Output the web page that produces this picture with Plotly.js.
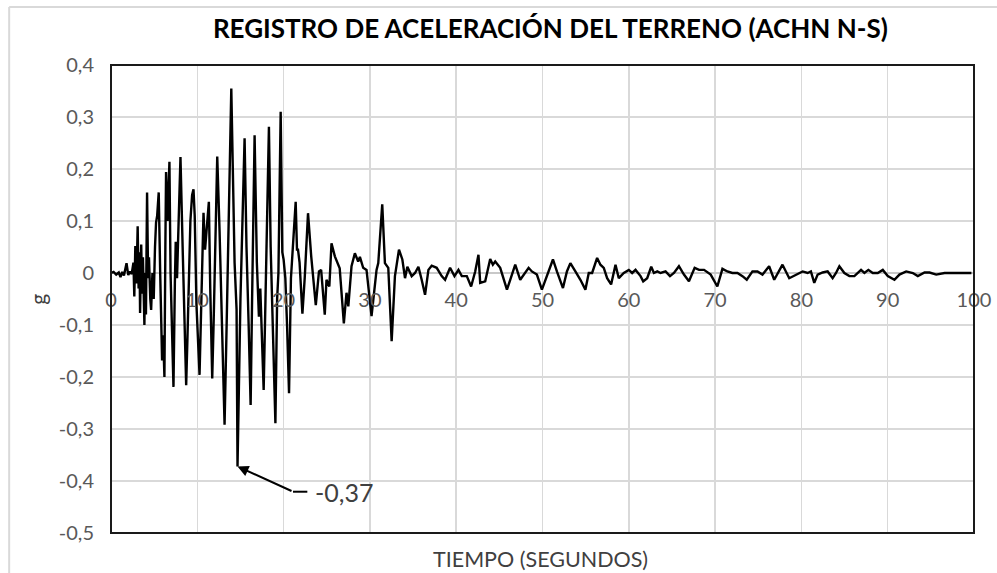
<!DOCTYPE html>
<html>
<head>
<meta charset="utf-8">
<script src="https://cdn.plot.ly/plotly-3.0.1.min.js"></script>
<style>html,body{margin:0;padding:0;background:#fff;}#chart{width:997px;height:573px;}</style>
</head>
<body>
<div id="chart"></div>
<script>
// Time (s)
const tiempo = [0,0.3,0.6,0.9,1.1,1.3,1.5,1.8,2.0,2.2,2.4,2.6,2.7,2.82,2.95,3.09,3.2,3.3,3.37,3.5,3.6,3.7,3.87,3.95,4.05,4.18,4.3,4.4,4.55,4.65,4.8,4.95,5.1,5.22,5.35,5.53,5.7,5.92,6.05,6.19,6.3,6.38,6.55,6.77,6.9,7.05,7.24,7.4,7.5,7.65,7.8,8.05,8.3,8.5,8.71,8.85,9.0,9.2,9.4,9.56,9.7,9.9,10.26,10.45,10.72,10.9,11.1,11.34,11.5,11.73,11.9,12.1,12.31,12.58,12.9,13.16,13.4,13.6,13.94,14.32,14.55,14.66,15.0,15.48,15.7,15.95,16.18,16.35,16.64,16.9,17.14,17.3,17.42,17.69,17.9,18.1,18.3,18.5,18.75,19.05,19.25,19.4,19.66,19.85,20.0,20.2,20.4,20.63,20.85,21.1,21.4,21.55,21.67,21.85,22.18,22.45,22.83,23.2,23.5,23.73,24.1,24.35,24.77,24.97,25.3,25.55,25.94,26.3,26.5,26.98,27.29,27.5,27.87,28.26,28.64,28.84,29.22,29.61,30.19,30.77,30.97,31.43,31.74,32.13,32.52,32.9,33.37,33.76,34.07,34.34,34.84,35.23,35.62,36.0,36.39,36.78,37.16,37.74,38.32,38.71,39.29,39.8,40.26,40.65,41.23,41.73,42.2,42.58,42.78,43.36,43.94,44.25,44.52,45.1,45.88,46.26,46.84,47.42,47.81,48.39,48.77,49.35,49.93,50.51,51.21,51.67,52.37,52.83,53.23,53.81,54.39,54.97,55.36,55.75,56.33,56.71,57.1,57.49,57.95,58.46,58.84,59.42,60.0,60.39,60.78,61.36,61.67,62.13,62.6,62.91,63.3,63.68,64.26,64.77,65.23,65.81,66.39,66.97,67.63,68.14,68.72,69.49,70.26,70.85,71.43,72.0,72.59,73.17,73.67,74.33,74.91,75.49,76.26,76.85,77.81,78.59,79.36,80.14,80.72,81.1,81.49,81.88,82.46,83.04,83.62,84.01,84.4,84.98,85.56,86.14,86.91,87.3,87.76,88.27,88.85,89.43,90.01,90.78,91.36,92.14,92.91,93.49,94.27,94.85,95.62,96.59,97.36,99.7];
// Acceleration (g)
const aceleracion = [0,0.002,-0.003,0.001,-0.008,0.002,-0.005,0.019,-0.004,0.003,-0.002,0.02,-0.045,0.052,-0.02,0.09,-0.03,0.04,-0.077,0.055,-0.04,0.03,-0.1,0.0,-0.08,0.155,-0.01,0.03,-0.05,-0.071,0.0,-0.05,0.05,0.097,0.11,0.155,0.0,-0.168,-0.12,-0.2,0.05,0.194,0.1,0.214,0.0,-0.1,-0.219,-0.02,0.06,-0.01,0.07,0.223,0.05,-0.1,-0.216,-0.13,-0.03,0.1,0.15,0.161,0.11,-0.06,-0.196,-0.06,0.116,0.045,0.09,0.137,-0.03,-0.203,-0.09,0.05,0.224,0.08,-0.12,-0.292,-0.1,0.05,0.355,0.02,-0.07,-0.372,-0.05,0.259,0.05,-0.1,-0.254,-0.05,0.265,0.02,-0.084,-0.03,-0.086,-0.225,-0.05,0.1,0.281,0.05,-0.1,-0.289,-0.05,0.0,0.31,0.04,0.026,-0.01,-0.1,-0.231,-0.01,0.05,0.137,0.045,0.045,0.02,-0.078,-0.009,0.115,0.032,-0.02,-0.062,0.003,0.006,-0.08,-0.013,-0.026,0.057,0.032,0.019,0.009,-0.097,-0.038,-0.064,0.013,0.038,0.022,0.031,0.01,0.006,-0.083,0.006,0.019,0.132,0.019,0.01,-0.131,-0.006,0.045,0.026,-0.01,0.012,-0.006,0,0.012,-0.013,-0.042,0.006,0.014,0.01,-0.006,-0.013,0.01,-0.006,0.006,-0.006,-0.006,-0.026,0.003,0.035,-0.019,-0.016,0.027,0.016,0.022,0.01,-0.032,-0.013,0.016,-0.013,-0.003,0.01,0.003,-0.003,-0.032,-0.006,0.026,0.003,-0.029,0.003,0.019,0.003,-0.013,-0.032,0,0,0.029,0.016,0.01,-0.01,-0.022,0.016,-0.01,0,0.006,0,0.006,-0.006,-0.016,-0.01,0.012,0,0.003,0,0.003,-0.006,0,0.013,-0.003,-0.016,0.01,0.006,0.006,-0.003,-0.026,0.008,0.003,0,0,-0.006,-0.013,0.003,0.003,-0.003,0.013,-0.013,0.016,-0.01,-0.003,0.003,0,0.003,-0.019,-0.003,0.001,0.003,-0.01,0,0.013,0,-0.006,-0.006,0.006,0,0.006,0,0,0.006,-0.006,-0.013,-0.003,0.003,0,-0.006,0.001,0.001,-0.003,0,0,0];

const xTicks = [0,10,20,30,40,50,60,70,80,90,100];
const yTickVals = [0.4,0.3,0.2,0.1,0,-0.1,-0.2,-0.3,-0.4,-0.5];
const yTickText = ["0,4","0,3","0,2","0,1","0","-0,1","-0,2","-0,3","-0,4","-0,5"];
const minTime = 14.66, minVal = -0.372, minLabel = "-0,37";

const FONT = "Lato, 'Open Sans', sans-serif";

const trace = {
  x: tiempo, y: aceleracion, type: 'scatter', mode: 'lines',
  line: {color: '#000000', width: 2.4}, hoverinfo: 'skip'
};

const layout = {
  width: 997, height: 573,
  margin: {l: 111, r: 23, t: 65, b: 40},
  paper_bgcolor: '#ffffff', plot_bgcolor: '#ffffff',
  showlegend: false,
  font: {family: FONT, color: '#595959'},
  title: {
    text: '<b>REGISTRO DE ACELERACIÓN DEL TERRENO (ACHN N-S)</b>',
    font: {family: FONT, size: 26, color: '#000000'},
    xref: 'container', x: 0.552, xanchor: 'center',
    yref: 'container', y: 0.949, yanchor: 'middle'
  },
  xaxis: {
    range: [0, 100], tickmode: 'array', tickvals: xTicks,
    showgrid: true, gridcolor: '#d9d9d9', gridwidth: 1.5,
    zeroline: false, showline: false, ticks: '',
    anchor: 'free', position: 0.555,
    ticklabelstandoff: 13,
    tickfont: {family: FONT, size: 20, color: '#595959'},
    fixedrange: true
  },
  yaxis: {
    range: [-0.5, 0.4], tickmode: 'array', tickvals: yTickVals, ticktext: yTickText,
    showgrid: true, gridcolor: '#d9d9d9', gridwidth: 1.5,
    zeroline: true, zerolinecolor: '#c8c8c8', zerolinewidth: 1.5,
    showline: false, ticks: '',
    ticklabelstandoff: 16,
    tickfont: {family: FONT, size: 20, color: '#595959'},
    fixedrange: true
  },
  shapes: [
    {type: 'rect', xref: 'paper', yref: 'paper', x0: 0, x1: 1, y0: 0, y1: 1,
     line: {color: '#1a1a1a', width: 2}, layer: 'above'},
    {type: 'line', xref: 'paper', yref: 'paper', x0: -0.118, x1: -0.118, y0: -0.09, y1: 1.124,
     line: {color: '#d9d9d9', width: 2}},
    {type: 'line', xref: 'paper', yref: 'paper', x0: -0.118, x1: 1.03, y0: 1.124, y1: 1.124,
     line: {color: '#d9d9d9', width: 2}},
    {type: 'line', xref: 'x', yref: 'y', x0: 21.09, x1: 22.75, y0: -0.4206, y1: -0.4206,
     line: {color: '#000000', width: 2}}
  ],
  annotations: [
    {text: 'g', xref: 'paper', yref: 'paper', x: -0.086, y: 0.5, textangle: -90,
     xanchor: 'center', yanchor: 'middle',
     showarrow: false, font: {family: FONT, size: 21, color: '#404040'}},
    {text: 'TIEMPO (SEGUNDOS)', xref: 'paper', yref: 'paper', x: 0.498, y: -0.0556,
     xanchor: 'center', yanchor: 'middle', showarrow: false,
     font: {family: FONT, size: 21.5, color: '#404040'}},
    {text: '', x: minTime, y: minVal, xref: 'x', yref: 'y',
     axref: 'x', ayref: 'y', ax: 21.09, ay: -0.4206,
     showarrow: true, arrowhead: 2, arrowsize: 1.1, arrowwidth: 2, arrowcolor: '#000000', standoff: 0},
    {text: minLabel, x: 23.4, y: -0.4206, xref: 'x', yref: 'y', xanchor: 'left', yanchor: 'middle',
     showarrow: false, font: {family: FONT, size: 25, color: '#404040'}}
  ]
};

Plotly.newPlot('chart', [trace], layout, {displayModeBar: false, staticPlot: true});
</script>
</body>
</html>
